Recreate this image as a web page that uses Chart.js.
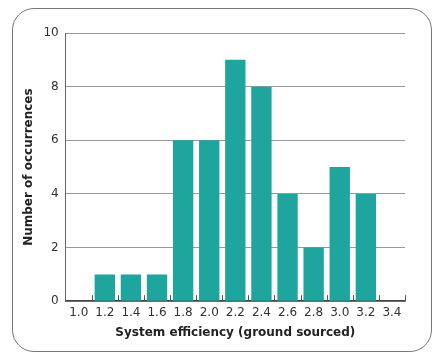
<!DOCTYPE html>
<html>
<head>
<meta charset="utf-8">
<script src="https://cdn.jsdelivr.net/npm/chart.js@4"></script>
<style>
  body { margin: 0; background: #fff; }
  #wrap { position: relative; width: 441px; height: 360px; }
  #frame {
    position: absolute; left: 12px; top: 8px; width: 418px; height: 342px;
    border: 1.5px solid #777; border-radius: 22px;
  }
  canvas { position: absolute; left: 0; top: 0; }
</style>
</head>
<body>
<div id="wrap">
  <div id="frame"></div>
  <canvas id="chart" width="441" height="360"></canvas>
</div>
<script>
const efficiencyBins = ['1.0', '1.2', '1.4', '1.6', '1.8', '2.0', '2.2', '2.4', '2.6', '2.8', '3.0', '3.2', '3.4'];
const occurrences = [0, 1, 1, 1, 6, 6, 9, 8, 4, 2, 5, 4, 0];
const yTicks = [0, 2, 4, 6, 8, 10];

const barColor = '#1ea59d';
const fam = "'DejaVu Sans', sans-serif";
const labelFont = { family: fam, size: 12 };
const titleFont = { family: fam, size: 12, weight: 'bold' };

// small upward tick marks between the bars, like the original
const innerTicks = {
    id: 'innerTicks',
    afterDatasetsDraw(chart) {
        const x = chart.scales.x, y = chart.scales.y;
        const ctx = chart.ctx;
        const bottom = y.getPixelForValue(0);
        ctx.save();
        ctx.strokeStyle = '#555';
        ctx.lineWidth = 1;
        for (let i = 1; i <= efficiencyBins.length; i++) {
            const px = Math.round((x.getPixelForValue(i - 1) + x.getPixelForValue(i)) / 2) + 0.5;
            ctx.beginPath();
            ctx.moveTo(px, bottom);
            ctx.lineTo(px, bottom - 6);
            ctx.stroke();
        }
        ctx.restore();
    }
};

new Chart(document.getElementById('chart'), {
    type: 'bar',
    data: {
        labels: efficiencyBins,
        datasets: [{
            data: occurrences,
            backgroundColor: barColor,
            barPercentage: 0.78,
            categoryPercentage: 1
        }]
    },
    options: {
        responsive: false,
        animation: false,
        layout: { padding: { top: 33, left: 22, right: 36, bottom: 16 } },
        plugins: { legend: { display: false }, tooltip: { enabled: false } },
        scales: {
            x: {
                grid: { display: false, drawTicks: false },
                border: { display: true, color: '#444', width: 1.5 },
                ticks: { color: '#333', font: labelFont, padding: 4 },
                title: { display: true, text: 'System efficiency (ground sourced)', color: '#222', font: titleFont, padding: { top: 2 } }
            },
            y: {
                min: 0, max: 10,
                afterBuildTicks(scale) { scale.ticks = yTicks.map(v => ({ value: v })); },
                grid: { color: '#999', lineWidth: 1, drawTicks: false },
                border: { display: true, color: '#666', width: 1 },
                ticks: { color: '#333', font: labelFont, padding: 7 },
                title: { display: true, text: 'Number of occurrences', color: '#222', font: titleFont, padding: { top: 0, bottom: 0 } }
            }
        }
    },
    plugins: [innerTicks]
});
</script>
</body>
</html>
